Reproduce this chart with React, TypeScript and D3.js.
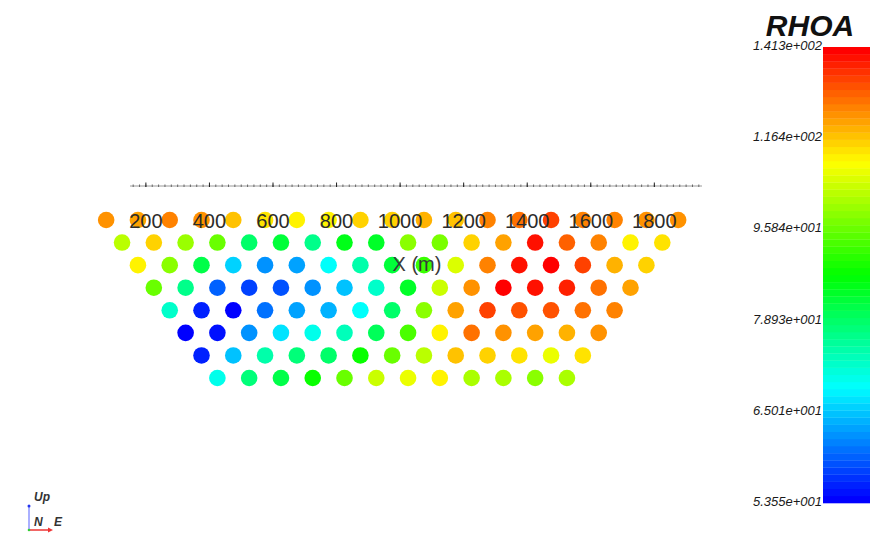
import React, { useEffect, useRef } from "react";
import * as d3 from "d3";

// apparent resistivity (ohm.m), one array per pseudo-depth level, left to right
const level1 = [122.2, 120.2, 124.2, 122.2, 116.4, 112.7, 110.9, 110.9, 114.5, 114.5, 118.3, 116.4, 124.2, 126.2, 132.5, 124.2, 124.2, 122.2, 122.2];
const level2 = [103.9, 114.5, 100.6, 95.8, 78.9, 82.9, 76.4, 85.6, 84.2, 99.0, 97.4, 114.5, 120.2, 139.0, 128.2, 124.2, 110.9, 112.7];
const level3 = [110.9, 99.0, 81.5, 66.1, 61.9, 62.9, 68.3, 74.0, 82.9, 91.3, 107.3, 124.2, 139.0, 141.0, 132.5, 118.3, 114.5];
const level4 = [95.8, 76.4, 59.0, 57.1, 58.1, 61.9, 65.0, 71.6, 84.2, 105.6, 122.2, 141.0, 139.0, 136.8, 126.2, 120.2];
const level5 = [71.6, 55.3, 53.6, 60.0, 62.9, 64.0, 68.3, 78.9, 99.0, 120.2, 132.5, 130.3, 130.3, 126.2, 124.2];
const level6 = [53.6, 54.4, 61.9, 67.2, 69.4, 72.8, 80.2, 92.8, 110.9, 126.2, 122.2, 120.2, 118.3, 122.2];
const level7 = [55.3, 65.0, 74.0, 77.7, 78.9, 87.0, 95.8, 103.9, 116.4, 114.5, 112.7, 109.1, 112.7];
const level8 = [69.4, 77.7, 81.5, 87.0, 95.8, 105.6, 109.1, 110.9, 102.3, 102.3, 99.0, 102.3];

const levels = [level1, level2, level3, level4, level5, level6, level7, level8];

// first midpoint (m), electrode spacing (m)
const firstMidpoint = 75;
const spacing = 100;

const xTickLabels = [200, 400, 600, 800, 1000, 1200, 1400, 1600, 1800];
const xDomain = [150, 1950];
const xTitle = "X (m)";

const rhoaRange = [53.55, 141.3];
const colorbarTicks = [53.55, 65.01, 78.93, 95.84, 116.4, 141.3];
const colorbarLabels = ["5.355e+001", "6.501e+001", "7.893e+001", "9.584e+001", "1.164e+002", "1.413e+002"];
const colorbarTitle = "RHOA";
const nColors = 64;

const W = 895;
const H = 547;

export default function App() {
  const ref = useRef<SVGSVGElement>(null);

  useEffect(() => {
    const svg = d3.select(ref.current);
    svg.selectAll("*").remove();

    const x = d3.scaleLinear().domain(xDomain).range([130, 702]);
    const y = d3.scaleLinear().domain([1, 8]).range([220, 378]);
    const t = d3.scaleLog().domain(rhoaRange).range([0, 1]).clamp(true);

    // rainbow lookup table, blue -> red, 64 entries
    const lut = d3.range(nColors).map((i) => d3.hsl(240 * (1 - i / (nColors - 1)), 1, 0.5).formatHex());
    const color = (v: number) => lut[Math.min(nColors - 1, Math.floor(t(v) * nColors))];

    const font = "'Liberation Sans', Arial, sans-serif";

    // axis line with ticks
    const axisY = 186;
    const ax = svg.append("g");
    ax.append("line")
      .attr("x1", x(xDomain[0])).attr("x2", x(xDomain[1]))
      .attr("y1", axisY).attr("y2", axisY)
      .attr("stroke", "#9a9a9a").attr("stroke-width", 1);
    ax.selectAll(".minor")
      .data(d3.range(160, 1950, 20))
      .join("line")
      .attr("x1", (d) => x(d)).attr("x2", (d) => x(d))
      .attr("y1", axisY - 1.5).attr("y2", axisY + 1)
      .attr("stroke", "#666").attr("stroke-width", 1);
    ax.selectAll(".major")
      .data(xTickLabels)
      .join("line")
      .attr("x1", (d) => x(d)).attr("x2", (d) => x(d))
      .attr("y1", axisY - 3.5).attr("y2", axisY + 1)
      .attr("stroke", "#222").attr("stroke-width", 1);

    // data points
    const pts = levels.flatMap((row, n) =>
      row.map((v, k) => ({ n: n + 1, mid: firstMidpoint + n * spacing / 2 + k * spacing, v }))
    );
    svg.append("g")
      .selectAll("circle")
      .data(pts)
      .join("circle")
      .attr("cx", (d) => x(d.mid))
      .attr("cy", (d) => y(d.n))
      .attr("r", 8.3)
      .attr("fill", (d) => color(d.v));

    // tick labels and title sit over the points
    svg.append("g")
      .selectAll("text")
      .data(xTickLabels)
      .join("text")
      .attr("x", (d) => x(d))
      .attr("y", 228)
      .attr("text-anchor", "middle")
      .style("font", `20px ${font}`)
      .attr("fill", "#2b2b2b")
      .text((d) => d);
    svg.append("text")
      .attr("x", 417).attr("y", 271)
      .attr("text-anchor", "middle")
      .style("font", `20px ${font}`)
      .attr("fill", "#3a3a3a")
      .text(xTitle);

    // colour bar
    const cbX = 823, cbW = 47, cbTop = 47, cbBottom = 503;
    const cb = d3.scaleLinear().domain([0, 1]).range([cbBottom, cbTop]);
    const bandH = (cbBottom - cbTop) / nColors;
    svg.append("g")
      .selectAll("rect")
      .data(lut)
      .join("rect")
      .attr("x", cbX)
      .attr("y", (_, i) => cb((i + 1) / nColors))
      .attr("width", cbW)
      .attr("height", bandH + 0.3)
      .attr("fill", (d) => d);

    svg.append("g")
      .selectAll("text")
      .data(colorbarTicks)
      .join("text")
      .attr("x", 822)
      .attr("y", (d) => cb(t(d)) + 3)
      .attr("text-anchor", "end")
      .style("font", `italic 13px ${font}`)
      .attr("fill", "#1a1a1a")
      .text((_, i) => colorbarLabels[i]);

    svg.append("text")
      .attr("x", 810).attr("y", 36)
      .attr("text-anchor", "middle")
      .style("font", `italic bold 30px ${font}`)
      .attr("fill", "#111")
      .text(colorbarTitle);

    // orientation marker
    const o = svg.append("g");
    o.append("line").attr("x1", 29).attr("y1", 530).attr("x2", 29).attr("y2", 507)
      .attr("stroke", "#aab0ff").attr("stroke-width", 2);
    o.append("circle").attr("cx", 29).attr("cy", 506).attr("r", 1.5).attr("fill", "#2233ee");
    o.append("line").attr("x1", 29).attr("y1", 530).attr("x2", 51).attr("y2", 530)
      .attr("stroke", "#ee3333").attr("stroke-width", 1.5);
    o.append("path").attr("d", "M53,530 L48,527.5 L48,532.5 Z").attr("fill", "#ee3333");
    o.append("circle").attr("cx", 29).attr("cy", 530).attr("r", 1.3).attr("fill", "#33cc33");
    const lab = [
      { s: "Up", x: 34, y: 501 },
      { s: "N", x: 34, y: 526 },
      { s: "E", x: 54, y: 526 },
    ];
    o.selectAll("text")
      .data(lab)
      .join("text")
      .attr("x", (d) => d.x).attr("y", (d) => d.y)
      .style("font", `italic bold 12px ${font}`)
      .attr("fill", "#333")
      .text((d) => d.s);
  }, []);

  return (
    <svg
      ref={ref}
      width={W}
      height={H}
      style={{ position: "absolute", left: 0, top: 0, background: "#fff" }}
    />
  );
}
